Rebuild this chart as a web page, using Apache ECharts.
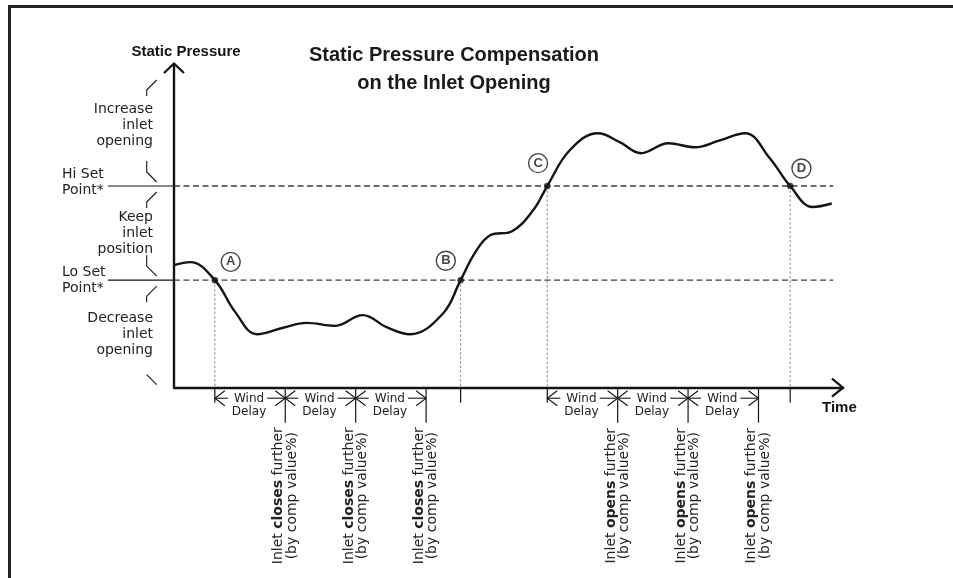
<!DOCTYPE html>
<html>
<head>
<meta charset="utf-8">
<script src="https://cdn.jsdelivr.net/npm/echarts@6/dist/echarts.min.js"></script>
<style>
html,body{margin:0;padding:0;background:#fff}
#main{width:953px;height:578px}
</style>
</head>
<body>
<div id="main"></div>
<script>
// pressure curve (time units, pressure units)
var timeVals = [0, 2.3, 5.8, 8.7, 11.8, 15.5, 18.8, 22.9, 26.8, 30.2, 33.5, 38.2, 40.7, 42.8, 44.9, 48.0, 51.0, 53.0, 56.2, 60.2, 63.3, 66.3, 70.2, 74.0, 77.5, 81.1, 84.6, 87.5, 90.7, 93.4];
var pressureVals = [45.6, 46.7, 40, 28.1, 19.9, 22.3, 24.1, 23.0, 27.0, 22.5, 19.9, 27.6, 40, 50.4, 56.7, 58.2, 66.0, 75, 88.3, 94.6, 91.3, 87.2, 90.9, 89.4, 92.0, 94.6, 85.3, 75, 67.2, 68.5];

var loSet = 40, hiSet = 75;
var tMax = 95, pMax = 120;

var crossTimes = [5.8, 40.7, 53, 87.5];
var crossLevels = [40, 40, 75, 75];
var crossNames = ['A', 'B', 'C', 'D'];
var badgeTimes = [8.05, 38.6, 51.7, 89.1];
var badgePress = [46.8, 47.2, 83.5, 81.5];

var windDelay = 10;
var delayStarts = [5.8, 53];
var delayCount = 3;
var delayVerbs = ['closes', 'opens'];

var zoneBounds = [0, 40, 75, 120];
var zoneLabels = ['Decrease\ninlet\nopening', 'Keep\ninlet\nposition', 'Increase\ninlet\nopening'];
var setLabels = ['Lo Set\nPoint*', 'Hi Set\nPoint*'];
var setLineFrom = -9.4, setLineTo = 93.6;

var ink = '#141414';
var txt = '#222';

var curve = timeVals.map(function (t, i) { return [t, pressureVals[i]]; });
var crossData = crossTimes.map(function (t, i) { return [t, crossLevels[i]]; });
var badgeData = badgeTimes.map(function (t, i) { return { value: [t, badgePress[i]], name: crossNames[i] }; });
var delayData = [];
delayStarts.forEach(function (s, g) {
	for (var k = 0; k < delayCount; k++) {
		delayData.push([s + k * windDelay, s + (k + 1) * windDelay, g]);
	}
});

function seg(a, b, style) {
	return { type: 'line', shape: { x1: a[0], y1: a[1], x2: b[0], y2: b[1] }, style: style };
}
function poly(pts, style) {
	return { type: 'polyline', shape: { points: pts }, style: style };
}
function label(x, y, text, align, extra) {
	var st = {
		text: text, x: 0, y: 0, fill: txt,
		fontFamily: 'DejaVu Sans', fontSize: 14, lineHeight: 16,
		align: align, verticalAlign: 'middle', textAlign: align, textVerticalAlign: 'middle'
	};
	for (var k in extra) st[k] = extra[k];
	return { type: 'text', x: x, y: y, style: st };
}

function renderOverlay(params, api) {
	var o = api.coord([0, 0]);
	var top = api.coord([0, pMax]);
	var end = api.coord([tMax, 0]);
	var thick = { stroke: ink, lineWidth: 2.3, fill: null };
	var thin = { stroke: ink, lineWidth: 1.1, fill: null };
	var ch = [];
	ch.push(poly([[top[0] - 10, top[1] + 8], [top[0], top[1] - 1.5], [top[0] + 10, top[1] + 8]], thick));
	ch.push(poly([[end[0] - 11, end[1] - 9], [end[0], end[1]], [end[0] - 11, end[1] + 9]], thick));

	[loSet, hiSet].forEach(function (v, i) {
		var a = api.coord([setLineFrom, v]), b = api.coord([0, v]), c = api.coord([setLineTo, v]);
		ch.push(seg(a, b, { stroke: ink, lineWidth: 1.2 }));
		ch.push(seg(b, c, { stroke: '#3c3c3c', lineWidth: 1.3, lineDash: [6, 3.5] }));
		ch.push(label(o[0] - 112, b[1] - (i === 1 ? 4 : 0), setLabels[i], 'left'));
	});

	for (var i = 0; i < zoneLabels.length; i++) {
		var mid = api.coord([0, (zoneBounds[i] + zoneBounds[i + 1]) / 2]);
		ch.push(label(o[0] - 21, mid[1], zoneLabels[i], 'right'));
		var yU = api.coord([0, zoneBounds[i + 1]])[1];
		var yL = api.coord([0, zoneBounds[i]])[1];
		var d = i === zoneLabels.length - 1 ? 15 : 6;
		var xa = o[0] - 27.3, xb = o[0] - 17.3;
		ch.push(poly([[xb, yU + d], [xa, yU + d + 10], [xa, yU + d + 16]], thin));
		if (i === 0) {
			ch.push(poly([[xa, yL - 13], [xb, yL - 3]], thin));
		} else {
			ch.push(poly([[xa, yL - 25], [xa, yL - 14], [xb, yL - 4]], thin));
		}
	}

	ch.push(label(end[0] - 21, end[1] + 20, 'Time', 'left', { fontFamily: 'Liberation Sans', fontWeight: 'bold', fontSize: 15, fill: ink }));
	return { type: 'group', children: ch };
}

function renderCross(params, api) {
	var p = api.coord([api.value(0), api.value(1)]);
	var b = api.coord([api.value(0), 0]);
	return {
		type: 'group',
		children: [
			seg(p, b, { stroke: '#8c8c8c', lineWidth: 1, lineDash: [2.5, 2] }),
			seg([b[0], b[1]], [b[0], b[1] + 15], { stroke: ink, lineWidth: 1.2 })
		]
	};
}

function renderDelay(params, api) {
	var p0 = api.coord([api.value(0), 0]);
	var p1 = api.coord([api.value(1), 0]);
	var g = api.value(2);
	var ax = p0[1], ya = ax + 10.5;
	var st = { stroke: ink, lineWidth: 1.1, fill: null };
	var ch = [];
	ch.push(poly([[p0[0] + 10, ya - 7.5], [p0[0], ya], [p0[0] + 10, ya + 7.5]], st));
	ch.push(seg([p0[0], ya], [p0[0] + 13, ya], st));
	ch.push(poly([[p1[0] - 10, ya - 7.5], [p1[0], ya], [p1[0] - 10, ya + 7.5]], st));
	ch.push(seg([p1[0] - 18, ya], [p1[0], ya], st));
	ch.push(seg([p1[0], ax], [p1[0], ax + 35], { stroke: ink, lineWidth: 1.2 }));
	ch.push(label((p0[0] + p1[0]) / 2 - 1, ax + 17.5, 'Wind\nDelay', 'center', { fontSize: 12, lineHeight: 13.4 }));
	var t = label(p1[0], ax + 108, 'Inlet {b|' + delayVerbs[g] + '} further\n(by comp value%)', 'center', {
		lineHeight: 13.5,
		rich: { b: { fontFamily: 'DejaVu Sans', fontWeight: 'bold', fontSize: 14, lineHeight: 13.5, fill: txt } }
	});
	t.rotation = Math.PI / 2;
	ch.push(t);
	return { type: 'group', children: ch };
}

var chart = echarts.init(document.getElementById('main'));
chart.setOption({
	animation: false,
	title: {
		text: 'Static Pressure Compensation\non the Inlet Opening',
		left: 449, top: 36, textAlign: 'center',
		textStyle: { fontFamily: 'Liberation Sans', fontWeight: 'bold', fontSize: 20, lineHeight: 28, color: '#1a1a1a' }
	},
	graphic: [
		{ type: 'line', shape: { x1: 8, y1: 6.5, x2: 953, y2: 6.5 }, style: { stroke: '#222', lineWidth: 3 } },
		{ type: 'line', shape: { x1: 9.5, y1: 5, x2: 9.5, y2: 578 }, style: { stroke: '#222', lineWidth: 3 } }
	],
	grid: { left: 174, top: 65, width: 669, height: 322.7 },
	xAxis: {
		type: 'value', min: 0, max: tMax,
		axisLine: { lineStyle: { color: ink, width: 2.4 } },
		axisTick: { show: false }, axisLabel: { show: false }, splitLine: { show: false }
	},
	yAxis: {
		type: 'value', min: 0, max: pMax,
		name: 'Static Pressure', nameLocation: 'end', nameGap: 6,
		nameTextStyle: { fontFamily: 'Liberation Sans', fontWeight: 'bold', fontSize: 15, color: ink, align: 'center', padding: [0, 0, 0, 24] },
		axisLine: { lineStyle: { color: ink, width: 2.4 } },
		axisTick: { show: false }, axisLabel: { show: false }, splitLine: { show: false }
	},
	series: [
		{ type: 'custom', name: 'overlay', renderItem: renderOverlay, data: [[0, 0]], silent: true, z: 1 },
		{ type: 'custom', name: 'crossings', renderItem: renderCross, data: crossData, silent: true, z: 1 },
		{ type: 'custom', name: 'delays', renderItem: renderDelay, data: delayData, silent: true, z: 1 },
		{
			type: 'line', name: 'pressure', data: curve, smooth: 0.4, showSymbol: false, silent: true, z: 3,
			lineStyle: { color: ink, width: 2.4 }
		},
		{
			type: 'scatter', name: 'points', data: crossData, symbolSize: 6.5, silent: true, z: 4,
			itemStyle: { color: ink }
		},
		{
			type: 'scatter', name: 'badges', data: badgeData, symbolSize: 19, silent: true, z: 4,
			itemStyle: { color: '#fff', borderColor: ink, borderWidth: 1.4 },
			label: { show: true, position: 'inside', formatter: '{b}', fontFamily: 'Liberation Sans', fontWeight: 'bold', fontSize: 13, color: ink }
		}
	]
});
</script>
</body>
</html>
